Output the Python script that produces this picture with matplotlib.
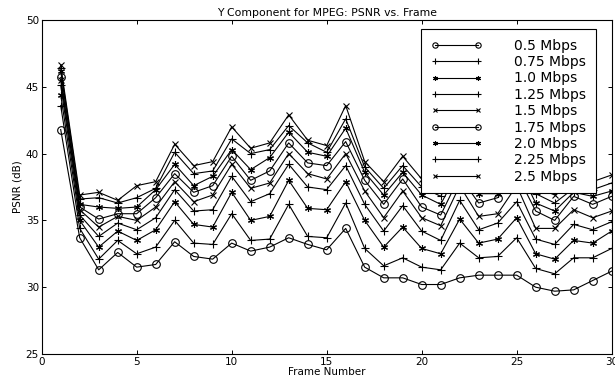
import matplotlib
matplotlib.use("Agg")
import matplotlib.pyplot as plt

plt.rcParams['font.family'] = ['DejaVu Sans']

frames = list(range(1, 31))

rates = ['0.5 Mbps', '0.75 Mbps', '1.0 Mbps', '1.25 Mbps', '1.5 Mbps',
         '1.75 Mbps', '2.0 Mbps', '2.25 Mbps', '2.5 Mbps']

psnr_05 = [41.8, 33.7, 31.3, 32.6, 31.5, 31.7, 33.4, 32.3, 32.1, 33.3,
           32.7, 33.0, 33.7, 33.2, 32.8, 34.4, 31.5, 30.7, 30.7, 30.2,
           30.2, 30.7, 30.9, 30.9, 30.9, 30.0, 29.7, 29.8, 30.5, 31.2]
psnr_075 = [43.6, 34.4, 32.1, 33.5, 32.5, 33.0, 35.0, 33.3, 33.2, 35.5,
            33.5, 33.6, 36.2, 33.8, 33.7, 36.3, 32.9, 31.6, 32.2, 31.5,
            31.3, 33.3, 32.2, 32.3, 33.7, 31.4, 31.0, 32.2, 32.2, 32.9]
psnr_10 = [44.4, 35.0, 33.0, 34.2, 33.5, 34.3, 36.4, 34.7, 34.5, 37.1,
           35.0, 35.3, 38.0, 35.9, 35.8, 37.9, 35.0, 33.0, 34.5, 32.9,
           32.5, 35.1, 33.3, 33.6, 35.2, 32.5, 32.1, 33.5, 33.3, 34.2]
psnr_125 = [45.1, 35.4, 33.8, 34.8, 34.3, 35.2, 37.3, 35.7, 35.8, 38.3,
            36.4, 37.0, 39.2, 37.5, 37.3, 39.1, 36.2, 34.2, 36.1, 34.2,
            33.5, 36.5, 34.3, 34.8, 36.4, 33.6, 33.2, 34.7, 34.3, 34.9]
psnr_15 = [45.5, 35.8, 34.5, 35.3, 35.0, 36.0, 37.9, 36.4, 36.9, 39.2,
           37.4, 37.8, 40.0, 38.5, 38.1, 40.0, 37.2, 35.2, 37.2, 35.2,
           34.6, 37.6, 35.3, 35.5, 37.6, 34.4, 34.4, 35.8, 35.2, 35.7]
psnr_175 = [45.7, 36.0, 35.1, 35.5, 35.5, 36.7, 38.5, 37.1, 37.6, 39.8,
            38.0, 38.7, 40.8, 39.3, 39.1, 40.9, 38.0, 36.2, 38.1, 36.0,
            35.4, 38.3, 36.3, 36.7, 38.5, 35.7, 35.0, 36.8, 36.2, 36.8]
psnr_20 = [46.2, 36.2, 36.0, 35.9, 36.0, 37.3, 39.2, 37.6, 38.3, 40.3,
           38.8, 39.7, 41.6, 40.1, 39.8, 41.9, 38.6, 36.9, 38.6, 36.9,
           36.2, 38.9, 37.0, 37.0, 39.2, 36.3, 35.7, 37.1, 36.8, 37.2]
psnr_225 = [46.4, 36.6, 36.7, 36.3, 36.7, 37.4, 40.1, 38.5, 38.7, 41.1,
            40.0, 40.3, 42.1, 40.8, 40.1, 42.6, 39.0, 37.4, 39.1, 37.5,
            36.8, 39.5, 37.6, 37.6, 39.8, 37.0, 36.3, 37.4, 37.3, 37.8]
psnr_25 = [46.6, 36.9, 37.1, 36.5, 37.6, 37.9, 40.7, 39.1, 39.4, 42.0,
           40.4, 40.8, 42.9, 41.0, 40.6, 43.6, 39.4, 37.9, 39.8, 38.1,
           37.3, 40.1, 38.1, 38.1, 40.3, 37.5, 36.9, 37.8, 37.9, 38.4]

series = [psnr_05, psnr_075, psnr_10, psnr_125, psnr_15,
          psnr_175, psnr_20, psnr_225, psnr_25]

# matlab style marker cycle: o, +, *, +, x, repeated
asterisk = (6, 2, 0)
markers = ['o', '+', asterisk, '+', 'x', 'o', asterisk, '+', 'x']
sizes = [5.5, 6, 5, 6, 4.5, 5.5, 5, 6, 4.5]

fig = plt.figure(figsize=(6.15, 3.81), dpi=100)
ax = fig.add_axes([0.0678, 0.0709, 0.9268, 0.8766])

for vals, label, m, ms in zip(series, rates, markers, sizes):
    ax.plot(frames, vals, color='black', lw=0.8, marker=m, markersize=ms,
            markerfacecolor='none', markeredgecolor='black',
            markeredgewidth=0.8, label=label)

ax.set_xlim(0, 30)
ax.set_ylim(25, 50)
ax.set_xticks(range(0, 31, 5))
ax.set_yticks(range(25, 51, 5))
ax.tick_params(direction='in', top=True, right=True, length=3,
               labelsize=7.5, width=0.7, pad=2)
for sp in ax.spines.values():
    sp.set_linewidth(0.8)

ax.set_title('Y Component for MPEG: PSNR vs. Frame', fontsize=7.8, pad=3)
ax.set_xlabel('Frame Number', fontsize=7.5, labelpad=0)
ax.set_ylabel('PSNR (dB)', fontsize=7.5, labelpad=2)

leg = ax.legend(loc='upper right', bbox_to_anchor=(0.9725, 0.973),
                borderaxespad=0, numpoints=2, fontsize=10, markerscale=0.7,
                handlelength=3.7, handletextpad=2.3, labelspacing=0.17,
                borderpad=0.7, fancybox=False, framealpha=1,
                edgecolor='black')
leg.get_frame().set_linewidth(0.8)

fig.savefig('out.png', dpi=100)
